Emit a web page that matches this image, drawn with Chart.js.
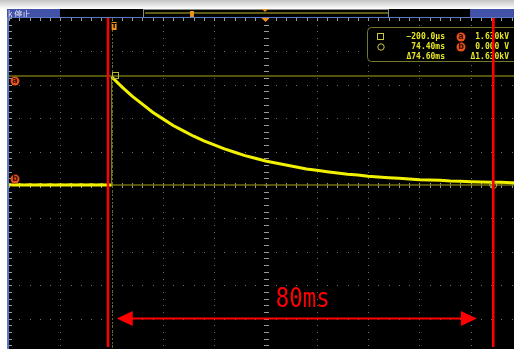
<!DOCTYPE html>
<html>
<head>
<meta charset="utf-8">
<script src="https://cdn.jsdelivr.net/npm/chart.js@4.4.1/dist/chart.umd.min.js"></script>
<style>
  html, body { margin: 0; padding: 0; width: 514px; height: 349px; overflow: hidden; background: #fff; }
  #scope { position: absolute; left: 0; top: 0; }
</style>
</head>
<body>
<canvas id="scope" width="530" height="360"></canvas>
<script>
// trace: time in ms, voltage in kV (10 ms/div, 0.5 kV/div)
const traceTimes = [-20, -19, -18, -17, -16, -15, -14, -13, -12, -11, -10, -9, -8, -7, -6, -5, -4, -3, -2, -1, 0,
  0, 2, 4, 6, 8, 10, 12, 14, 16, 18, 20, 22, 24, 26, 28, 30, 32, 34, 36, 38, 40,
  42, 44, 46, 48, 50, 52, 54, 56, 58, 60, 62, 64, 66, 68, 70, 72, 74, 76, 78, 80];
const traceKV = [0.005, 0.0, 0.005, 0.0, 0.005, 0.0, 0.005, 0.0, 0.005, 0.0, 0.005, 0.0, 0.005, 0.0, 0.005, 0.0, 0.005, 0.0, 0.005, 0.0, 0.0,
  1.62, 1.47, 1.33, 1.21, 1.09, 0.99, 0.89, 0.81, 0.73, 0.66, 0.60, 0.54, 0.49, 0.44, 0.40, 0.36, 0.33, 0.30, 0.27, 0.24, 0.22,
  0.20, 0.18, 0.16, 0.15, 0.13, 0.12, 0.11, 0.10, 0.09, 0.08, 0.075, 0.07, 0.06, 0.055, 0.05, 0.045, 0.04, 0.04, 0.035, 0.03];

// cursors and annotation
const cursorTimes = [-0.7, 74.4];
const levelKV = [1.63, 0];
const levelNames = ['a', 'b'];
const arrowSpan = [1.0, 71.2];
const arrowKV = -2.0;
const spanLabel = '80ms';
const spanLabelPos = [32, -1.82];

// readout box
const readLeft = ['−200.0µs', '74.40ms', 'Δ74.60ms'];
const readRight = ['1.630kV', '0.000 V', 'Δ1.630kV'];

const scopePlugin = {
  id: 'scope',
  beforeDraw(chart) {
    const { ctx, chartArea: a, scales: { x, y } } = chart;
    ctx.save();
    ctx.fillStyle = '#fff';
    ctx.fillRect(0, 0, chart.width, chart.height);
    ctx.fillStyle = '#000';
    ctx.fillRect(a.left, a.top, a.right - a.left, a.bottom - a.top);

    // dotted graticule
    ctx.fillStyle = '#6e6e6e';
    for (let t = -20; t <= 80; t += 10) {
      const px = Math.round(x.getPixelForValue(t));
      for (let v = -2.5; v <= 2.5001; v += 0.1) ctx.fillRect(px, Math.round(y.getPixelForValue(v)), 1, 1);
    }
    for (let v = -2.5; v <= 2.5001; v += 0.5) {
      const py = Math.round(y.getPixelForValue(v));
      for (let t = -20; t <= 80.001; t += 2) ctx.fillRect(Math.round(x.getPixelForValue(t)), py, 1, 1);
    }
    // centre axes with minor ticks
    ctx.fillStyle = '#9a9a9a';
    const cx = Math.round(x.getPixelForValue(30)), cy = Math.round(y.getPixelForValue(0));
    for (let v = -2.5; v <= 2.5001; v += 0.1) {
      const py = Math.round(y.getPixelForValue(v));
      ctx.fillRect(cx - 2, py, 5, 1);
      ctx.fillRect(a.left, py, 3, 1);
    }
    for (let t = -20; t <= 80.001; t += 2) {
      const px = Math.round(x.getPixelForValue(t));
      ctx.fillRect(px, cy - 2, 1, 5);
      ctx.fillRect(px, a.top, 1, 3);
    }

    // trigger column
    ctx.strokeStyle = '#5d6a1c';
    ctx.setLineDash([2, 2]);
    ctx.lineWidth = 1;
    const tx = Math.round(x.getPixelForValue(0)) + 0.5;
    ctx.beginPath(); ctx.moveTo(tx, a.top); ctx.lineTo(tx, a.bottom); ctx.stroke();
    ctx.setLineDash([]);

    // level cursors
    ctx.strokeStyle = '#707010';
    ctx.lineWidth = 1.5;
    levelKV.forEach(v => {
      const py = y.getPixelForValue(v);
      ctx.beginPath(); ctx.moveTo(a.left, py); ctx.lineTo(a.right, py); ctx.stroke();
    });
    ctx.restore();
  },
  afterDatasetsDraw(chart) {
    const { ctx, chartArea: a, scales: { x, y } } = chart;
    ctx.save();

    // markers on trace
    ctx.strokeStyle = '#b8b840';
    ctx.lineWidth = 1;
    const mx = x.getPixelForValue(0), my = y.getPixelForValue(levelKV[0]);
    ctx.strokeRect(Math.round(mx) + 0.5, Math.round(my) - 3.5, 6, 6);
    ctx.beginPath();
    ctx.arc(x.getPixelForValue(cursorTimes[1]), y.getPixelForValue(levelKV[1]), 3.5, 0, Math.PI * 2);
    ctx.stroke();

    // red time cursors
    ctx.strokeStyle = '#ff0000';
    ctx.lineWidth = 2.5;
    cursorTimes.forEach(t => {
      const px = x.getPixelForValue(t);
      ctx.beginPath(); ctx.moveTo(px, a.top); ctx.lineTo(px, 347); ctx.stroke();
    });

    // arrow
    ctx.lineWidth = 2;
    const x1 = x.getPixelForValue(arrowSpan[0]), x2 = x.getPixelForValue(arrowSpan[1]);
    const ay = y.getPixelForValue(arrowKV);
    ctx.beginPath(); ctx.moveTo(x1 + 10, ay); ctx.lineTo(x2 - 10, ay); ctx.stroke();
    ctx.fillStyle = '#ff0000';
    ctx.beginPath(); ctx.moveTo(x1, ay); ctx.lineTo(x1 + 16, ay - 7.5); ctx.lineTo(x1 + 16, ay + 7.5); ctx.closePath(); ctx.fill();
    ctx.beginPath(); ctx.moveTo(x2, ay); ctx.lineTo(x2 - 16, ay - 7.5); ctx.lineTo(x2 - 16, ay + 7.5); ctx.closePath(); ctx.fill();

    // label
    ctx.save();
    ctx.translate(x.getPixelForValue(spanLabelPos[0]), y.getPixelForValue(spanLabelPos[1]));
    ctx.scale(0.83, 1);
    ctx.font = '27px "DejaVu Sans Mono"';
    ctx.textBaseline = 'alphabetic';
    ctx.fillText(spanLabel, 0, 0);
    ctx.restore();

    // level labels a / b
    const badge = (cx, cy, s) => {
      ctx.fillStyle = '#e8501c';
      ctx.beginPath(); ctx.arc(cx, cy, 4.5, 0, Math.PI * 2); ctx.fill();
      ctx.fillStyle = '#3a1000';
      ctx.font = 'bold 8px "DejaVu Sans"';
      ctx.textAlign = 'center'; ctx.textBaseline = 'middle';
      ctx.fillText(s, cx, cy);
    };
    badge(15, y.getPixelForValue(levelKV[0]) + 5, levelNames[0]);
    badge(15, y.getPixelForValue(levelKV[1]) - 6, levelNames[1]);

    // readout box
    ctx.fillStyle = '#000';
    ctx.strokeStyle = '#78782a';
    ctx.lineWidth = 1;
    ctx.beginPath(); ctx.roundRect(367.5, 27.5, 160, 34, 4); ctx.fill(); ctx.stroke();
    ctx.strokeStyle = '#c8c840';
    ctx.strokeRect(377.5, 33.5, 6, 6);
    ctx.beginPath(); ctx.arc(381, 47, 3.2, 0, Math.PI * 2); ctx.stroke();
    ctx.font = 'bold 8px "DejaVu Sans Mono"';
    ctx.textBaseline = 'middle';
    ctx.textAlign = 'right';
    const rows = [37, 47, 57];
    rows.forEach((ry, i) => {
      ctx.fillStyle = '#e6e628';
      ctx.fillText(readLeft[i], 445, ry);
      ctx.fillText(readRight[i], 509, ry);
    });
    ctx.textAlign = 'left';
    badge(461, 37, levelNames[0]);
    badge(461, 47, levelNames[1]);

    // cursor line in box overlaps
    ctx.strokeStyle = '#ff0000';
    ctx.lineWidth = 2.5;
    const rx = x.getPixelForValue(cursorTimes[1]);
    ctx.beginPath(); ctx.moveTo(rx, a.top); ctx.lineTo(rx, 62); ctx.stroke();
    ctx.restore();
  },
  afterDraw(chart) {
    const { ctx, chartArea: a, scales: { x } } = chart;
    ctx.save();
    // status bar
    const g = ctx.createLinearGradient(0, 0, 0, 9);
    g.addColorStop(0, '#c4c4c4'); g.addColorStop(1, '#ffffff');
    ctx.fillStyle = g;
    ctx.fillRect(0, 0, chart.width, 9);
    ctx.fillStyle = '#000';
    ctx.fillRect(7, 9, chart.width, 9);
    ctx.fillStyle = '#4152a8';
    ctx.fillRect(7, 9, 53, 9);
    ctx.fillRect(470, 9, 60, 9);
    ctx.strokeStyle = '#8a8a8a';
    ctx.lineWidth = 1;
    ctx.strokeRect(143.5, 9.5, 245, 8);
    ctx.fillStyle = '#5e5e14';
    ctx.fillRect(145, 12, 243, 2);
    ctx.fillStyle = '#e89020';
    ctx.fillRect(190, 11, 4, 6);
    ctx.beginPath(); ctx.moveTo(262, 9); ctx.lineTo(268, 9); ctx.lineTo(265, 12); ctx.closePath(); ctx.fill();
    ctx.fillStyle = '#e8e8f0';
    ctx.font = '8px "Noto Sans CJK JP"';
    ctx.textBaseline = 'middle';
    ctx.fillText('k 停止', 8, 13.5);

    // plot frame
    ctx.fillStyle = '#5a78c8';
    ctx.fillRect(7, a.top - 1, chart.width, 1);
    ctx.fillRect(7, a.top - 1, 2, chart.height);

    // top markers
    const cxp = x.getPixelForValue(30);
    ctx.fillStyle = '#f09018';
    ctx.beginPath(); ctx.moveTo(cxp - 4, a.top); ctx.lineTo(cxp + 4, a.top); ctx.lineTo(cxp, a.top + 4); ctx.closePath(); ctx.fill();
    const tpx = x.getPixelForValue(0);
    ctx.fillRect(tpx, a.top + 4, 5, 8);
    ctx.fillStyle = '#000';
    ctx.font = 'bold 7px "DejaVu Sans"';
    ctx.textAlign = 'center';
    ctx.fillText('T', tpx + 2.5, a.top + 8.5);
    ctx.restore();
  }
};

new Chart(document.getElementById('scope'), {
  type: 'line',
  data: {
    datasets: [{
      data: traceTimes.map((t, i) => ({ x: t, y: traceKV[i] })),
      borderColor: '#f2f200',
      borderWidth: 3,
      pointRadius: 0,
      tension: 0,
      segment: {
        borderColor: c => c.p0.parsed.x === c.p1.parsed.x ? '#8a8a10' : undefined,
        borderWidth: c => c.p0.parsed.x === c.p1.parsed.x ? 1 : undefined
      }
    }]
  },
  options: {
    responsive: false,
    animation: false,
    devicePixelRatio: 1,
    layout: { padding: { left: 9, top: 18, right: 8, bottom: 8 } },
    plugins: { legend: { display: false }, tooltip: { enabled: false } },
    scales: {
      x: { type: 'linear', min: -20, max: 80, display: false },
      y: { min: -2.5, max: 2.5, display: false }
    }
  },
  plugins: [scopePlugin]
});
</script>
</body>
</html>
